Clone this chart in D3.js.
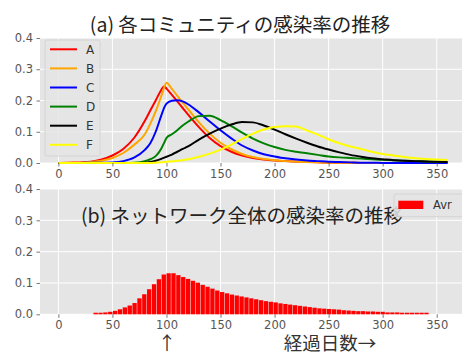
<!DOCTYPE html>
<html>
<head>
<meta charset="utf-8">
<script src="https://cdn.jsdelivr.net/npm/d3@7"></script>
<style>
  html, body { margin: 0; padding: 0; background: #ffffff; }
  svg { display: block; }
</style>
</head>
<body>
<svg id="chart" width="462" height="356"></svg>
<script>
// ---- data -------------------------------------------------------------
const communities = ["A", "B", "C", "D", "E", "F"];

const days = [0, 10, 20, 30, 40, 50, 60, 70, 80, 85, 90, 95, 98, 100, 105, 110, 115, 120,
  130, 140, 150, 160, 170, 180, 190, 200, 210, 220, 230, 240, 250, 260, 270, 280, 290,
  300, 310, 320, 330, 340, 350, 360];

const rateA = [0.000, 0.001, 0.002, 0.004, 0.011, 0.024, 0.045, 0.080, 0.135, 0.168, 0.200, 0.233, 0.246, 0.238, 0.218, 0.197, 0.176, 0.155,
  0.115, 0.080, 0.054, 0.036, 0.024, 0.016, 0.011, 0.008, 0.006, 0.004, 0.003, 0.002, 0.001, 0.001, 0.001, 0.000, 0.000,
  0.000, 0.000, 0.000, 0.000, 0.000, 0.000, 0.000];
const rateB = [0.000, 0.001, 0.001, 0.003, 0.007, 0.016, 0.032, 0.058, 0.092, 0.125, 0.165, 0.212, 0.243, 0.257, 0.237, 0.215, 0.193, 0.172,
  0.130, 0.094, 0.065, 0.044, 0.029, 0.019, 0.013, 0.009, 0.006, 0.004, 0.003, 0.002, 0.001, 0.001, 0.001, 0.000, 0.000,
  0.000, 0.000, 0.000, 0.000, 0.000, 0.000, 0.000];
const rateC = [0.000, 0.000, 0.000, 0.001, 0.001, 0.002, 0.006, 0.017, 0.042, 0.063, 0.100, 0.150, 0.178, 0.190, 0.199, 0.201, 0.197, 0.188,
  0.162, 0.133, 0.105, 0.079, 0.056, 0.040, 0.028, 0.021, 0.015, 0.011, 0.008, 0.006, 0.004, 0.003, 0.002, 0.001, 0.001,
  0.000, 0.000, 0.000, 0.000, 0.000, 0.000, 0.000];
const rateD = [0.000, 0.000, 0.000, 0.000, 0.000, 0.000, 0.000, 0.001, 0.006, 0.012, 0.022, 0.045, 0.066, 0.080, 0.092, 0.105, 0.120, 0.132,
  0.150, 0.151, 0.137, 0.118, 0.097, 0.078, 0.063, 0.051, 0.042, 0.036, 0.031, 0.026, 0.021, 0.018, 0.016, 0.014, 0.012,
  0.010, 0.009, 0.007, 0.006, 0.005, 0.004, 0.003];
const rateE = [0.000, 0.000, 0.000, 0.000, 0.000, 0.000, 0.000, 0.000, 0.001, 0.003, 0.007, 0.013, 0.017, 0.020, 0.027, 0.036, 0.045, 0.053,
  0.075, 0.094, 0.110, 0.123, 0.131, 0.130, 0.120, 0.107, 0.092, 0.078, 0.065, 0.053, 0.043, 0.034, 0.026, 0.020, 0.015,
  0.012, 0.009, 0.007, 0.006, 0.005, 0.004, 0.003];
const rateF = [0.000, 0.000, 0.000, 0.000, 0.000, 0.000, 0.000, 0.000, 0.000, 0.000, 0.001, 0.002, 0.003, 0.004, 0.005, 0.007, 0.009, 0.012,
  0.020, 0.030, 0.043, 0.059, 0.077, 0.094, 0.107, 0.115, 0.118, 0.117, 0.104, 0.091, 0.076, 0.063, 0.053, 0.045, 0.036,
  0.029, 0.024, 0.019, 0.015, 0.013, 0.011, 0.010];

// network-wide average, sampled every 4.5 days
const avrDays = [34.5, 39, 43.5, 48, 52.5, 57, 61.5, 66, 70.5, 75, 79.5, 84, 88.5, 93, 97.5, 102, 106.5, 111,
  115.5, 120, 124.5, 129, 133.5, 138, 142.5, 147, 151.5, 156, 160.5, 165, 169.5, 174, 178.5, 183, 187.5, 192,
  196.5, 201, 205.5, 210, 214.5, 219, 223.5, 228, 232.5, 237, 241.5, 246, 250.5, 255, 259.5, 264, 268.5, 273,
  277.5, 282, 286.5, 291, 295.5, 300, 304.5, 309, 313.5, 318, 322.5, 327, 331.5, 336, 340.5];
const avrRate = [0.005, 0.005, 0.006, 0.008, 0.011, 0.016, 0.022, 0.028, 0.036, 0.051, 0.064, 0.080, 0.096, 0.112, 0.127, 0.131, 0.131, 0.125,
  0.119, 0.113, 0.107, 0.101, 0.094, 0.088, 0.082, 0.076, 0.071, 0.067, 0.063, 0.060, 0.057, 0.054, 0.051, 0.048, 0.045, 0.042,
  0.040, 0.038, 0.035, 0.033, 0.031, 0.029, 0.027, 0.025, 0.023, 0.021, 0.019, 0.018, 0.017, 0.016, 0.015, 0.013, 0.012, 0.011,
  0.010, 0.010, 0.009, 0.009, 0.008, 0.008, 0.006, 0.006, 0.006, 0.005, 0.005, 0.005, 0.005, 0.005, 0.005];

const xTicks = [0, 50, 100, 150, 200, 250, 300, 350];
const yTicks = [0.0, 0.1, 0.2, 0.3, 0.4];

const titleA = "(a) 各コミュニティの感染率の推移";
const titleB = "(b) ネットワーク全体の感染率の推移";
const xLabelMark = "↑";
const xLabelText = "経過日数→";
const avrLabel = "Avr";

// ---- styling ----------------------------------------------------------
const lineColors = ["#ff0000", "#ffa500", "#0000ff", "#008000", "#000000", "#ffff00"];
const bgColor = "#e5e5e5";
const tickColor = "#555555";
const tickFont = "'DejaVu Sans', sans-serif";
const cjkFont = "'Noto Sans CJK JP', 'Noto Sans', sans-serif";

const svg = d3.select("#chart");

// shared horizontal scale for both panels
const x = d3.scaleLinear().domain([-17, 378]).range([40, 467]);

function panel(top, bottom) {
  const y = d3.scaleLinear().domain([0, 0.4]).range([bottom, top]);
  const g = svg.append("g");
  g.append("rect")
    .attr("x", x.range()[0]).attr("y", top)
    .attr("width", x.range()[1] - x.range()[0]).attr("height", bottom - top)
    .attr("fill", bgColor);

  // grid
  g.append("g").selectAll("line").data(xTicks).join("line")
    .attr("x1", d => x(d)).attr("x2", d => x(d))
    .attr("y1", top).attr("y2", bottom)
    .attr("stroke", "#ffffff").attr("stroke-width", 1);
  g.append("g").selectAll("line").data(yTicks).join("line")
    .attr("x1", x.range()[0]).attr("x2", x.range()[1])
    .attr("y1", d => y(d)).attr("y2", d => y(d))
    .attr("stroke", "#ffffff").attr("stroke-width", 1);

  // axes
  const xAxis = d3.axisBottom(x).tickValues(xTicks).tickSize(3.5).tickPadding(3.5)
    .tickFormat(d3.format("d"));
  const yAxis = d3.axisLeft(y).tickValues(yTicks).tickSize(3.5).tickPadding(3.5)
    .tickFormat(d3.format(".1f"));
  const xa = svg.append("g").attr("transform", `translate(0,${bottom})`).call(xAxis);
  const ya = svg.append("g").attr("transform", `translate(${x.range()[0]},0)`).call(yAxis);
  [xa, ya].forEach(a => {
    a.select(".domain").remove();
    a.selectAll(".tick line").attr("stroke", tickColor).attr("stroke-width", 0.8);
    a.selectAll(".tick text").attr("fill", tickColor)
      .style("font-family", tickFont).style("font-size", "11.5px");
  });
  return { g, y };
}

// ---- panel (a): community curves --------------------------------------
const pa = panel(38, 163);
const series = [rateA, rateB, rateC, rateD, rateE, rateF];
const line = d3.line()
  .x((d, i) => x(days[i]))
  .y(d => pa.y(d))
  .curve(d3.curveMonotoneX);

pa.g.append("g").selectAll("path").data(series).join("path")
  .attr("d", d => line(d))
  .attr("fill", "none")
  .attr("stroke", (d, i) => lineColors[i])
  .attr("stroke-width", 2)
  .attr("stroke-linejoin", "round");

// legend
const lg = pa.g.append("g");
lg.append("rect")
  .attr("x", 45).attr("y", 40).attr("width", 55).attr("height", 116)
  .attr("rx", 2).attr("fill", bgColor).attr("fill-opacity", 0.85)
  .attr("stroke", "#d4d4d4").attr("stroke-width", 1);
const rows = lg.selectAll("g.row").data(communities).join("g")
  .attr("class", "row")
  .attr("transform", (d, i) => `translate(0,${49.3 + i * 19.1})`);
rows.append("line")
  .attr("x1", 50).attr("x2", 77).attr("y1", 0).attr("y2", 0)
  .attr("stroke", (d, i) => lineColors[i]).attr("stroke-width", 2);
rows.append("text")
  .attr("x", 86).attr("y", 0).attr("dy", "0.36em")
  .attr("fill", "#333333")
  .style("font-family", tickFont).style("font-size", "12px")
  .text(d => d);

// ---- panel (b): network average ---------------------------------------
const pb = panel(189, 314.3);
const barHalf = 2;
pb.g.append("g").selectAll("rect").data(avrRate).join("rect")
  .attr("x", (d, i) => x(avrDays[i] - barHalf))
  .attr("width", (d, i) => x(avrDays[i] + barHalf) - x(avrDays[i] - barHalf))
  .attr("y", d => pb.y(d))
  .attr("height", d => pb.y(0) - pb.y(d))
  .attr("fill", "#ff0000");

pb.g.append("text")
  .attr("x", 242).attr("y", 223)
  .attr("text-anchor", "middle")
  .attr("fill", "#222222")
  .style("font-family", cjkFont).style("font-size", "19.5px")
  .text(titleB);

const lb = pb.g.append("g");
lb.append("rect")
  .attr("x", 394).attr("y", 194).attr("width", 70).attr("height", 22.7)
  .attr("rx", 2).attr("fill", bgColor).attr("fill-opacity", 0.85)
  .attr("stroke", "#d4d4d4").attr("stroke-width", 1);
lb.append("rect")
  .attr("x", 398.3).attr("y", 200.7).attr("width", 25).attr("height", 8.3)
  .attr("fill", "#ff0000");
lb.append("text")
  .attr("x", 433).attr("y", 205).attr("dy", "0.36em")
  .attr("fill", "#333333")
  .style("font-family", tickFont).style("font-size", "11.5px")
  .text(avrLabel);

// ---- titles and labels -------------------------------------------------
svg.append("text")
  .attr("x", 240).attr("y", 32)
  .attr("text-anchor", "middle")
  .attr("fill", "#222222")
  .style("font-family", cjkFont).style("font-size", "19.5px")
  .text(titleA);

svg.append("text")
  .attr("x", 167).attr("y", 350)
  .attr("text-anchor", "middle")
  .attr("fill", "#333333")
  .style("font-family", cjkFont).style("font-size", "18.5px")
  .text(xLabelMark);

svg.append("text")
  .attr("x", 330).attr("y", 350)
  .attr("text-anchor", "middle")
  .attr("fill", "#333333")
  .style("font-family", cjkFont).style("font-size", "18.5px")
  .text(xLabelText);
</script>
</body>
</html>
